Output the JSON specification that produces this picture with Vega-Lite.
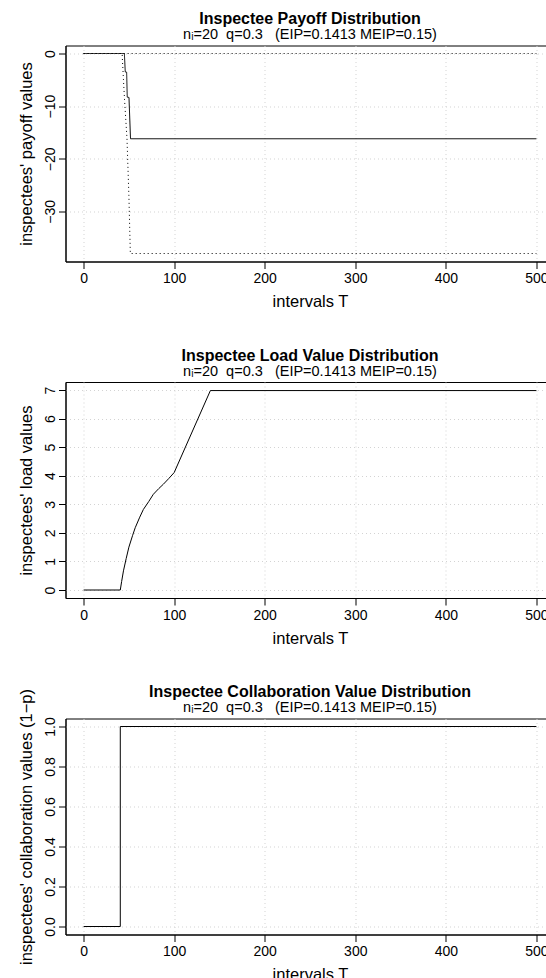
{
  "$schema": "https://vega.github.io/schema/vega-lite/v6.json",
  "autosize": {"type": "none"},
  "padding": {"left": 65.5, "top": 45.5, "right": 480.5, "bottom": 932.5},
  "bounds": "flush",
  "spacing": 120.5,
  "config": {
    "font": "Liberation Sans",
    "view": {"stroke": "black", "strokeWidth": 1},
    "axis": {
      "domainColor": "black", "tickColor": "black", "tickSize": 7,
      "labelFontSize": 14, "labelColor": "black", "labelFont": "Liberation Sans",
      "titleFontSize": 16.5, "titleFontWeight": "normal", "titleColor": "black", "titleFont": "Liberation Sans",
      "grid": true, "gridColor": "#d3d3d3", "gridDash": [1, 3], "labelFlush": false
    },
    "axisX": {"labelPadding": 3, "titlePadding": 8},
    "axisY": {"labelAngle": 270, "labelAlign": "center", "labelBaseline": "bottom", "labelPadding": 1, "titlePadding": 9},
    "title": {
      "fontSize": 16, "fontWeight": "bold", "color": "black", "font": "Liberation Sans",
      "subtitleFontSize": 14.5, "subtitleColor": "black", "subtitleFont": "Liberation Sans",
      "anchor": "middle", "frame": "group", "offset": 4, "subtitlePadding": 1
    }
  },
  "datasets": {
    "payoff": [
      {"i": 1, "s": "mean", "t": 0, "v": 0},
      {"i": 2, "s": "mean", "t": 45, "v": 0},
      {"i": 3, "s": "mean", "t": 46, "v": -3.5},
      {"i": 4, "s": "mean", "t": 47.5, "v": -3.55},
      {"i": 5, "s": "mean", "t": 48.2, "v": -8.3},
      {"i": 6, "s": "mean", "t": 50.1, "v": -8.35},
      {"i": 7, "s": "mean", "t": 51.8, "v": -16.2},
      {"i": 8, "s": "mean", "t": 500, "v": -16.2},
      {"i": 1, "s": "min", "t": 0, "v": 0},
      {"i": 2, "s": "min", "t": 42.5, "v": 0},
      {"i": 3, "s": "min", "t": 44, "v": -5},
      {"i": 4, "s": "min", "t": 45.2, "v": -8.8},
      {"i": 5, "s": "min", "t": 47.9, "v": -16.2},
      {"i": 6, "s": "min", "t": 50, "v": -27},
      {"i": 7, "s": "min", "t": 51.6, "v": -38},
      {"i": 8, "s": "min", "t": 500, "v": -38},
      {"i": 1, "s": "max", "t": 0, "v": 0},
      {"i": 2, "s": "max", "t": 500, "v": 0}
    ],
    "load": [
      {"i": 1, "t": 0, "v": 0},
      {"i": 2, "t": 40.5, "v": 0},
      {"i": 3, "t": 42, "v": 0.3},
      {"i": 4, "t": 44, "v": 0.67},
      {"i": 5, "t": 47, "v": 1.1},
      {"i": 6, "t": 50, "v": 1.5},
      {"i": 7, "t": 54, "v": 1.9},
      {"i": 8, "t": 57, "v": 2.18},
      {"i": 9, "t": 62, "v": 2.55},
      {"i": 10, "t": 66, "v": 2.82},
      {"i": 11, "t": 72, "v": 3.1},
      {"i": 12, "t": 77, "v": 3.35},
      {"i": 13, "t": 83, "v": 3.55},
      {"i": 14, "t": 88, "v": 3.7},
      {"i": 15, "t": 94, "v": 3.9},
      {"i": 16, "t": 100, "v": 4.11},
      {"i": 17, "t": 140, "v": 6.98},
      {"i": 18, "t": 500, "v": 6.98}
    ],
    "collab": [
      {"i": 1, "t": 0, "v": 0},
      {"i": 2, "t": 40.5, "v": 0},
      {"i": 3, "t": 40.5, "v": 1},
      {"i": 4, "t": 500, "v": 1}
    ]
  },
  "vconcat": [
    {
      "width": 489, "height": 216,
      "title": {"text": "Inspectee Payoff Distribution", "subtitle": "nᵢ=20\u00a0\u00a0q=0.3\u00a0\u00a0\u00a0(EIP=0.1413 MEIP=0.15)"},
      "data": {"name": "payoff"},
      "mark": {"type": "line", "color": "black", "strokeWidth": 1},
      "encoding": {
        "x": {"field": "t", "type": "quantitative", "scale": {"domain": [-20, 520], "nice": false, "zero": false}, "axis": {"values": [0, 100, 200, 300, 400, 500], "title": "intervals T"}},
        "y": {"field": "v", "type": "quantitative", "scale": {"domain": [-39.52, 1.52], "nice": false, "zero": false}, "axis": {"values": [0, -10, -20, -30], "title": "inspectees' payoff values"}},
        "order": {"field": "i", "type": "quantitative"},
        "strokeDash": {"field": "s", "type": "nominal", "scale": {"domain": ["mean", "min", "max"], "range": [[1, 0], [1, 3], [1, 3]]}, "legend": null}
      }
    },
    {
      "width": 489, "height": 216,
      "title": {"text": "Inspectee Load Value Distribution", "subtitle": "nᵢ=20\u00a0\u00a0q=0.3\u00a0\u00a0\u00a0(EIP=0.1413 MEIP=0.15)"},
      "data": {"name": "load"},
      "mark": {"type": "line", "color": "black", "strokeWidth": 1},
      "encoding": {
        "x": {"field": "t", "type": "quantitative", "scale": {"domain": [-20, 520], "nice": false, "zero": false}, "axis": {"values": [0, 100, 200, 300, 400, 500], "title": "intervals T"}},
        "y": {"field": "v", "type": "quantitative", "scale": {"domain": [-0.28, 7.28], "nice": false, "zero": false}, "axis": {"values": [0, 1, 2, 3, 4, 5, 6, 7], "title": "inspectees' load values"}},
        "order": {"field": "i", "type": "quantitative"}
      }
    },
    {
      "width": 489, "height": 216,
      "title": {"text": "Inspectee Collaboration Value Distribution", "subtitle": "nᵢ=20\u00a0\u00a0q=0.3\u00a0\u00a0\u00a0(EIP=0.1413 MEIP=0.15)", "offset": -26.5},
      "data": {"name": "collab"},
      "mark": {"type": "line", "color": "black", "strokeWidth": 1},
      "encoding": {
        "x": {"field": "t", "type": "quantitative", "scale": {"domain": [-20, 520], "nice": false, "zero": false}, "axis": {"values": [0, 100, 200, 300, 400, 500], "title": "intervals T"}},
        "y": {"field": "v", "type": "quantitative", "scale": {"domain": [-0.04, 1.04], "nice": false, "zero": false}, "axis": {"values": [0, 0.2, 0.4, 0.6, 0.8, 1], "format": ".1f", "title": "inspectees' collaboration values (1−p)"}},
        "order": {"field": "i", "type": "quantitative"}
      }
    }
  ]
}
